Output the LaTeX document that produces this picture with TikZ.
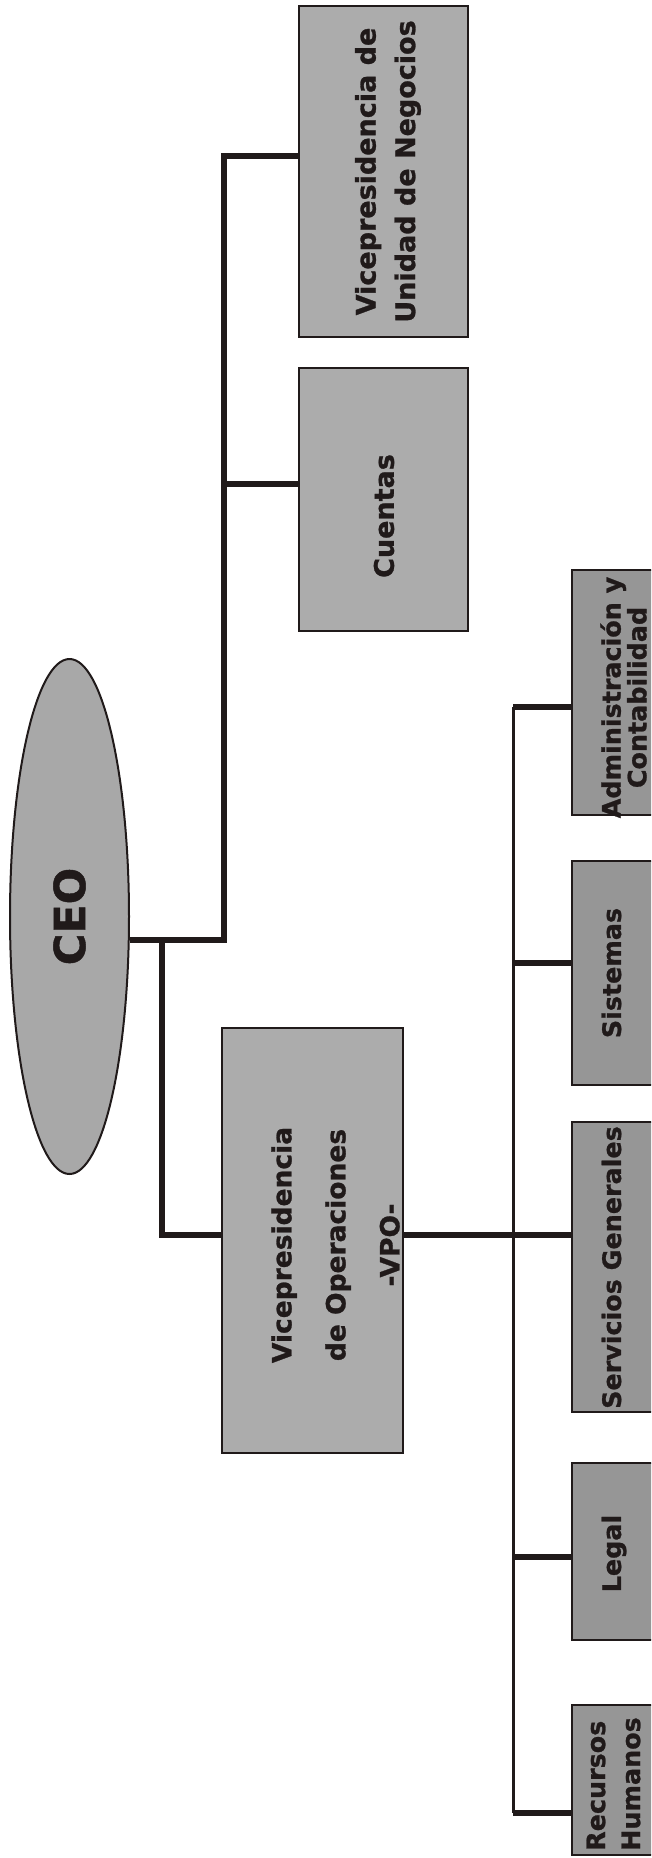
\documentclass[tikz,border=0pt]{standalone}
\usepackage{fontspec}
\setmainfont{DejaVu Sans}[BoldFeatures={FakeBold=1}]
\usetikzlibrary{shapes.geometric}
\definecolor{vpfill}{RGB}{172,172,172}
\definecolor{chfill}{RGB}{150,150,150}
\definecolor{ceofill}{RGB}{168,168,168}
\definecolor{ink}{RGB}{32,26,26}
\begin{document}
\begin{tikzpicture}[x=1pt,y=-1pt,
  box/.style={draw=ink, line width=2.5pt, rectangle, inner sep=0pt},
  vpbox/.style={box, fill=vpfill},
  chbox/.style={box, fill=chfill},
  lbl/.style={rotate=90, align=center, inner sep=0pt, text=ink},
  vptxt/.style={lbl, font=\fontsize{27}{39.5}\selectfont\bfseries},
  vpotxt/.style={lbl, font=\fontsize{26.5}{54}\selectfont\bfseries},
  chtxt/.style={lbl, font=\fontsize{25.4}{23.5}\selectfont\bfseries},
  chone/.style={chtxt, text height=0.76em, text depth=0.23em},
  conn/.style={draw=ink, line width=6pt},
  bus/.style={draw=ink, line width=3pt},
]
\useasboundingbox (0,0) rectangle (651,1858);
\fill[white] (0,0) rectangle (651,1858);
\clip (0,0) rectangle (651,1858);

% CEO
\node[ellipse, draw=ink, line width=2pt, fill=ceofill, minimum width=119pt, minimum height=515pt, inner sep=0pt] (ceo) at (69.5,916.5) {};
\node[lbl, font=\fontsize{43}{50}\selectfont\bfseries] (ceot) at (ceo.center) {CEO};

% Top level boxes
\node[vpbox, minimum width=169pt, minimum height=331pt] (vun) at (383.5,171.5) {};
\node[vptxt] (vunt) at (388,171.5) {Vicepresidencia de\\Unidad de Negocios};
\node[vpbox, minimum width=169pt, minimum height=263pt] (cue) at (383.5,499.5) {};
\node[vptxt] (cuet) at (384,516) {Cuentas};
\node[vpbox, minimum width=181pt, minimum height=425pt] (vpo) at (312.5,1240.5) {};
\node[vpotxt] (vpot) at (335.5,1245) {Vicepresidencia\\de Operaciones\\-VPO-};

% Child boxes (right edge off the page)
\node[chbox, minimum width=110pt, minimum height=245pt] (adm) at (627,692.5) {};
\node[chtxt] (admt) at (623.5,697.5) {Administración y\\Contabilidad};
\node[chbox, minimum width=110pt, minimum height=224pt] (sis) at (627,973) {};
\node[chone] (sist) at (618.3,973) {Sistemas};
\node[chbox, minimum width=110pt, minimum height=290pt] (ser) at (627,1267) {};
\node[chone] (sert) at (618.3,1267.5) {Servicios Generales};
\node[chbox, minimum width=110pt, minimum height=177pt] (leg) at (627,1551.5) {};
\node[chone] (legt) at (618.3,1553.5) {Legal};
\node[chbox, minimum width=110pt, minimum height=150pt] (rh) at (627,1780) {};
\node[chtxt, align=left, anchor=west, font=\fontsize{25.4}{35}\selectfont\bfseries] (rht) at (613.5,1851) {Recursos\\Humanos};

% junction coordinates
\coordinate (jc) at (224,940);
\coordinate (jt) at (224,156);
\coordinate (jcu) at (224,484);
\coordinate (jo) at (162,940);
\coordinate (jv) at (162,1235);
\coordinate (bt) at (513,707);
\coordinate (bs) at (513,963);
\coordinate (bl) at (513,1557);
\coordinate (bb) at (513,1813);

% connectors
\draw[conn] (ceo.east |- jc) -- (jc) -- (jt) -- (vun.west |- jt);
\draw[conn] (jcu) -- (cue.west |- jcu);
\draw[conn] (jo) -- (jv) -- (vpo.west |- jv);
\draw[conn] (vpo.east |- jv) -- (ser.west |- jv);
\draw[bus] (bt) -- (bb);
\draw[conn] (bt) -- (adm.west |- bt);
\draw[conn] (bs) -- (sis.west |- bs);
\draw[conn] (bl) -- (leg.west |- bl);
\draw[conn] (bb) -- (rh.west |- bb);
\end{tikzpicture}
\end{document}
